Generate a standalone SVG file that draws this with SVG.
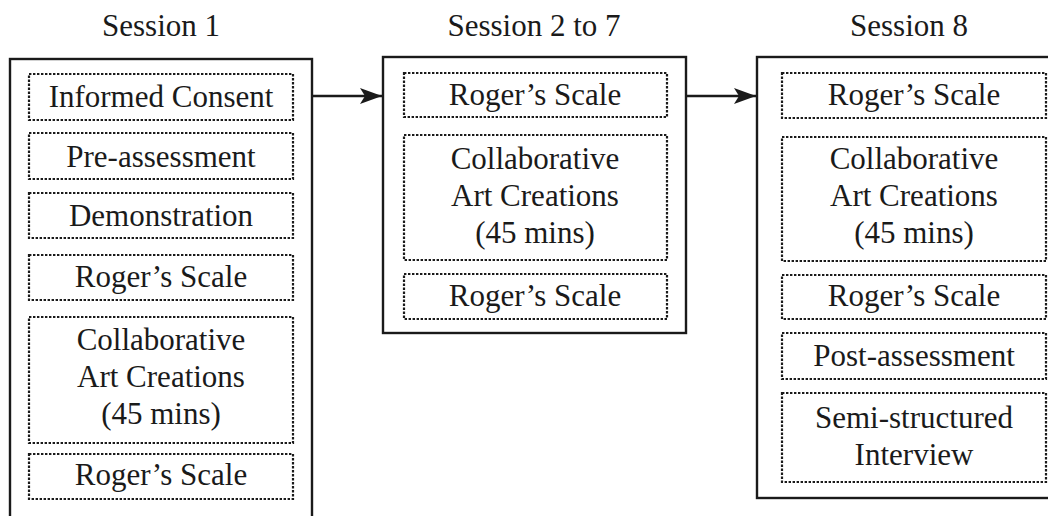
<svg xmlns="http://www.w3.org/2000/svg" width="1048" height="516" viewBox="0 0 1048 516">
<defs>
<style>
.title{font-family:"Liberation Serif","Times New Roman",serif;font-size:31px;fill:#1a1a1a;text-anchor:middle}
.t{font-family:"Liberation Serif","Times New Roman",serif;font-size:31px;fill:#1a1a1a;text-anchor:middle}
.outer{fill:#fff;stroke:#1a1a1a;stroke-width:2.4}
.inner{fill:none;stroke:#1a1a1a;stroke-width:2.2;stroke-dasharray:2.4 1.6}
.conn{stroke:#1a1a1a;stroke-width:2.4;fill:none}
</style>
<marker id="ah" viewBox="0 0 22 16" refX="22" refY="8" markerWidth="22" markerHeight="16" markerUnits="userSpaceOnUse" orient="auto">
<path d="M0,0 L22,8 L0,16 L5,8 Z" fill="#1a1a1a"/>
</marker>
</defs>
<rect width="1048" height="516" fill="#fff"/>
<g id="titles">
<text class="title" x="161" y="36">Session 1</text>
<text class="title" x="534" y="36">Session 2 to 7</text>
<text class="title" x="909" y="36">Session 8</text>
</g>
<g id="session1">
<rect class="outer" x="10" y="59" width="302" height="480"/>
<g id="s1-consent"><rect class="inner" x="29" y="74" width="264" height="46"/><text class="t" x="161" y="107">Informed Consent</text></g>
<g id="s1-pre"><rect class="inner" x="29" y="133" width="264" height="46"/><text class="t" x="161" y="167">Pre-assessment</text></g>
<g id="s1-demo"><rect class="inner" x="29" y="193" width="264" height="45"/><text class="t" x="161" y="226">Demonstration</text></g>
<g id="s1-roger1"><rect class="inner" x="29" y="255" width="264" height="45"/><text class="t" x="161" y="287">Roger’s Scale</text></g>
<g id="s1-collab"><rect class="inner" x="29" y="317" width="264" height="126"/><text class="t" x="161" y="350">Collaborative</text><text class="t" x="161" y="387">Art Creations</text><text class="t" x="161" y="424">(45 mins)</text></g>
<g id="s1-roger2"><rect class="inner" x="29" y="454" width="264" height="45"/><text class="t" x="161" y="485">Roger’s Scale</text></g>
</g>
<g id="session2">
<rect class="outer" x="383" y="57" width="303" height="276"/>
<g id="s2-roger1"><rect class="inner" x="404" y="73" width="263" height="44"/><text class="t" x="535" y="105">Roger’s Scale</text></g>
<g id="s2-collab"><rect class="inner" x="404" y="135" width="263" height="125"/><text class="t" x="535" y="169">Collaborative</text><text class="t" x="535" y="206">Art Creations</text><text class="t" x="535" y="243">(45 mins)</text></g>
<g id="s2-roger2"><rect class="inner" x="404" y="274" width="263" height="45"/><text class="t" x="535" y="306">Roger’s Scale</text></g>
</g>
<g id="session8">
<rect class="outer" x="757" y="57" width="310" height="441"/>
<g id="s8-roger1"><rect class="inner" x="782" y="73" width="264" height="45"/><text class="t" x="914" y="105">Roger’s Scale</text></g>
<g id="s8-collab"><rect class="inner" x="782" y="137" width="264" height="124"/><text class="t" x="914" y="169">Collaborative</text><text class="t" x="914" y="206">Art Creations</text><text class="t" x="914" y="243">(45 mins)</text></g>
<g id="s8-roger2"><rect class="inner" x="782" y="275" width="264" height="44"/><text class="t" x="914" y="306">Roger’s Scale</text></g>
<g id="s8-post"><rect class="inner" x="782" y="333" width="264" height="46"/><text class="t" x="914" y="366">Post-assessment</text></g>
<g id="s8-interview"><rect class="inner" x="782" y="393" width="264" height="89"/><text class="t" x="914" y="428">Semi-structured</text><text class="t" x="914" y="465">Interview</text></g>
</g>
<g id="connectors">
<line class="conn" x1="312" y1="96" x2="382" y2="96" marker-end="url(#ah)"/>
<line class="conn" x1="686" y1="96" x2="756" y2="96" marker-end="url(#ah)"/>
</g>
</svg>
